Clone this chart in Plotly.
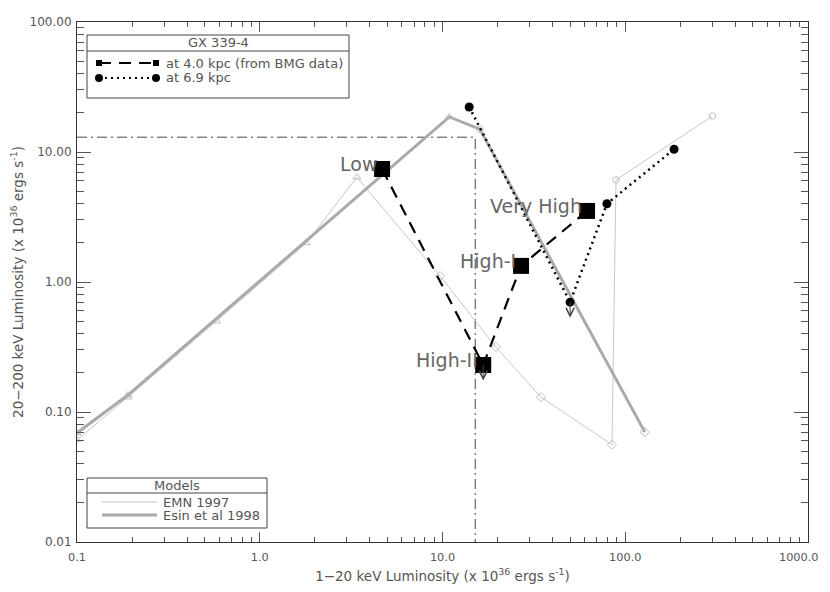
import numpy as np
import plotly.graph_objects as go

# GX 339-4 observed states, 4.0 kpc (BMG data)
states = ["Low", "High-II", "High-I", "Very High"]
bmg_x = [4.67, 16.7, 26.9, 61.8]
bmg_y = [7.4, 0.23, 1.33, 3.52]
bmg_upper = [False, True, False, False]

# same states at 6.9 kpc
far_x = [14.0, 49.9, 79.4, 185.0]
far_y = [22.2, 0.70, 4.0, 10.5]
far_upper = [False, True, False, False]

# models
emn_x = [0.1, 0.19, 0.58, 1.8, 3.4, 9.7, 19.6, 34.6, 84.6, 89.0, 300.0]
emn_y = [0.061, 0.13, 0.50, 2.0, 6.4, 1.11, 0.316, 0.13, 0.056, 6.1, 18.9]
emn_sym = ["triangle-up-open"] * 5 + ["diamond-open"] * 4 + ["hexagon-open"] * 2

esin_x = [0.1, 0.19, 10.9, 16.0, 128.0]
esin_y = [0.069, 0.135, 18.6, 15.0, 0.070]
esin_sym = ["triangle-up-open", "triangle-up-open", "triangle-up-open", "hexagon-open", "diamond-open"]

# reference cross (dash-dot)
ref_x = 15.1
ref_y = 13.0

x_ticks = [0.1, 1, 10, 100, 1000]
x_ticktext = ["0.1", "1.0", "10.0", "100.0", "1000.0"]
y_ticks = [0.01, 0.1, 1, 10, 100]
y_ticktext = ["0.01", "0.10", "1.00", "10.00", "100.00"]

FONT = "DejaVu Sans"
TXT = "#555555"

fig = go.Figure()

fig.add_trace(go.Scatter(
    x=[x_ticks[0], ref_x, ref_x], y=[ref_y, ref_y, y_ticks[0]], mode="lines",
    line=dict(color="#444444", width=1, dash="10px,4px,2px,4px"), showlegend=False, hoverinfo="skip"))

fig.add_trace(go.Scatter(
    x=emn_x, y=emn_y, mode="lines+markers",
    line=dict(color="#c8c8c8", width=1),
    marker=dict(symbol=emn_sym, size=7, color="#c0c0c0", line=dict(width=1, color="#c0c0c0")),
    showlegend=False))

fig.add_trace(go.Scatter(
    x=esin_x, y=esin_y, mode="lines+markers",
    line=dict(color="#aaaaaa", width=3),
    marker=dict(symbol=esin_sym, size=7, color="#bbbbbb", line=dict(width=1, color="#bbbbbb")),
    showlegend=False))

fig.add_trace(go.Scatter(
    x=far_x, y=far_y, mode="lines+markers",
    line=dict(color="black", width=2.5, dash="2px,4px"),
    marker=dict(symbol="circle", size=9, color="black"),
    showlegend=False))

fig.add_trace(go.Scatter(
    x=bmg_x, y=bmg_y, mode="lines+markers",
    line=dict(color="black", width=2.2, dash="12px,8px"),
    marker=dict(symbol="square", size=16, color="black"),
    showlegend=False))

annotations = []
# state labels
for name, x, y in zip(states, bmg_x, bmg_y):
    annotations.append(dict(
        x=np.log10(x), y=np.log10(y), text=name, showarrow=False,
        xanchor="right", yanchor="middle", xshift=-3, yshift=5,
        font=dict(family=FONT, size=19, color="#666666")))

# upper limit arrows
for xs, ys, ups in [(bmg_x, bmg_y, bmg_upper), (far_x, far_y, far_upper)]:
    for x, y, up in zip(xs, ys, ups):
        if up:
            annotations.append(dict(
                x=np.log10(x), y=np.log10(y), ax=0, ay=17, text="",
                showarrow=True, arrowside="start", startarrowhead=5, startarrowsize=1.6,
                arrowwidth=1, arrowcolor="#444444"))

# plot frame as seen on the page (page body adds an 8px offset)
L, R, T, B = 77, 808, 22, 542
OFF = 8
W, H = 830 - OFF, 592 - 2 * OFF


def px(x):
    return (x - L) / (R - L)


def py(y):
    return (B - y) / (B - T)


def label(x, y, text, anchor="left", size=13):
    annotations.append(dict(xref="paper", yref="paper", x=px(x), y=py(y), text=text, showarrow=False,
                            xanchor=anchor, yanchor="middle", font=dict(family=FONT, size=size, color=TXT)))


# last x tick label would be clipped at the page edge, so pin it right-aligned
label(821, 557, x_ticktext[-1], "right", 11.3)
x_ticklabels = x_ticktext[:-1] + [""]

shapes = []
box = dict(color="#444444", width=1)

# legend box: GX 339-4
shapes.append(dict(type="rect", xref="paper", yref="paper", x0=px(87), x1=px(349), y0=py(98), y1=py(35),
                   line=box, fillcolor="white", layer="above"))
shapes.append(dict(type="line", xref="paper", yref="paper", x0=px(87), x1=px(349), y0=py(51), y1=py(51),
                   line=box, layer="above"))
label(218, 43, "GX 339-4", "center")
shapes.append(dict(type="line", xref="paper", yref="paper", x0=px(99), x1=px(156), y0=py(63), y1=py(63),
                   line=dict(color="black", width=2, dash="12px,8px"), layer="above"))
for cx in [99, 156]:
    shapes.append(dict(type="rect", xref="paper", yref="paper", x0=px(cx - 3), x1=px(cx + 3),
                       y0=py(66), y1=py(60), line=dict(width=0), fillcolor="black", layer="above"))
shapes.append(dict(type="line", xref="paper", yref="paper", x0=px(99), x1=px(156), y0=py(78), y1=py(78),
                   line=dict(color="black", width=2, dash="2px,4px"), layer="above"))
for cx in [99, 156]:
    shapes.append(dict(type="circle", xref="paper", yref="paper", x0=px(cx - 4), x1=px(cx + 4),
                       y0=py(82), y1=py(74), line=dict(width=0), fillcolor="black", layer="above"))
label(164, 63, "at 4.0 kpc (from BMG data)")
label(164, 78, "at 6.9 kpc")

# legend box: Models
shapes.append(dict(type="rect", xref="paper", yref="paper", x0=px(87), x1=px(267), y0=py(528), y1=py(478),
                   line=box, fillcolor="white", layer="above"))
shapes.append(dict(type="line", xref="paper", yref="paper", x0=px(87), x1=px(267), y0=py(493), y1=py(493),
                   line=box, layer="above"))
label(177, 485, "Models", "center")
shapes.append(dict(type="line", xref="paper", yref="paper", x0=px(102), x1=px(157), y0=py(502), y1=py(502),
                   line=dict(color="#c8c8c8", width=1), layer="above"))
shapes.append(dict(type="line", xref="paper", yref="paper", x0=px(102), x1=px(157), y0=py(515), y1=py(515),
                   line=dict(color="#aaaaaa", width=3), layer="above"))
label(161, 502, "EMN 1997")
label(161, 515, "Esin et al 1998")

x_minor = [m * d for d in [0.1, 1, 10, 100] for m in range(2, 10)]
y_minor = [m * d for d in [0.01, 0.1, 1, 10] for m in range(2, 10)]

fig.update_layout(
    width=W, height=H,
    margin=dict(l=L - OFF, r=W - (R - OFF), t=T - OFF, b=H - (B - OFF)),
    paper_bgcolor="white", plot_bgcolor="white",
    font=dict(family=FONT, size=12, color=TXT),
    shapes=shapes, annotations=annotations, showlegend=False,
    xaxis=dict(
        type="log", range=[-1, 3], tickvals=x_ticks, ticktext=x_ticklabels, automargin=False,
        ticks="inside", ticklen=10, tickcolor="#555555", showgrid=False, zeroline=False,
        showline=True, linecolor="#333333", linewidth=1, mirror="allticks",
        minor=dict(ticks="inside", ticklen=5, tickcolor="#555555", tickvals=x_minor, showgrid=False),
        ticklabelstandoff=4,
        title=dict(text="1\u221220 keV Luminosity (x 10<sup>36</sup> ergs s<sup>-1</sup>)",
                   font=dict(size=13.5, color=TXT), standoff=10),
        tickfont=dict(size=11.3, color=TXT),
    ),
    yaxis=dict(
        type="log", range=[-2, 2], tickvals=y_ticks, ticktext=y_ticktext, automargin=False,
        ticks="inside", ticklen=14, tickcolor="#555555", showgrid=False, zeroline=False,
        showline=True, linecolor="#333333", linewidth=1, mirror="allticks",
        minor=dict(ticks="inside", ticklen=7, tickcolor="#555555", tickvals=y_minor, showgrid=False),
        ticklabelstandoff=2,
        title=dict(text="20\u2212200 keV Luminosity (x 10<sup>36</sup> ergs s<sup>-1</sup>)",
                   font=dict(size=13.5, color=TXT), standoff=8),
        tickfont=dict(size=12, color=TXT),
    ),
)

fig.write_html("out.html")
